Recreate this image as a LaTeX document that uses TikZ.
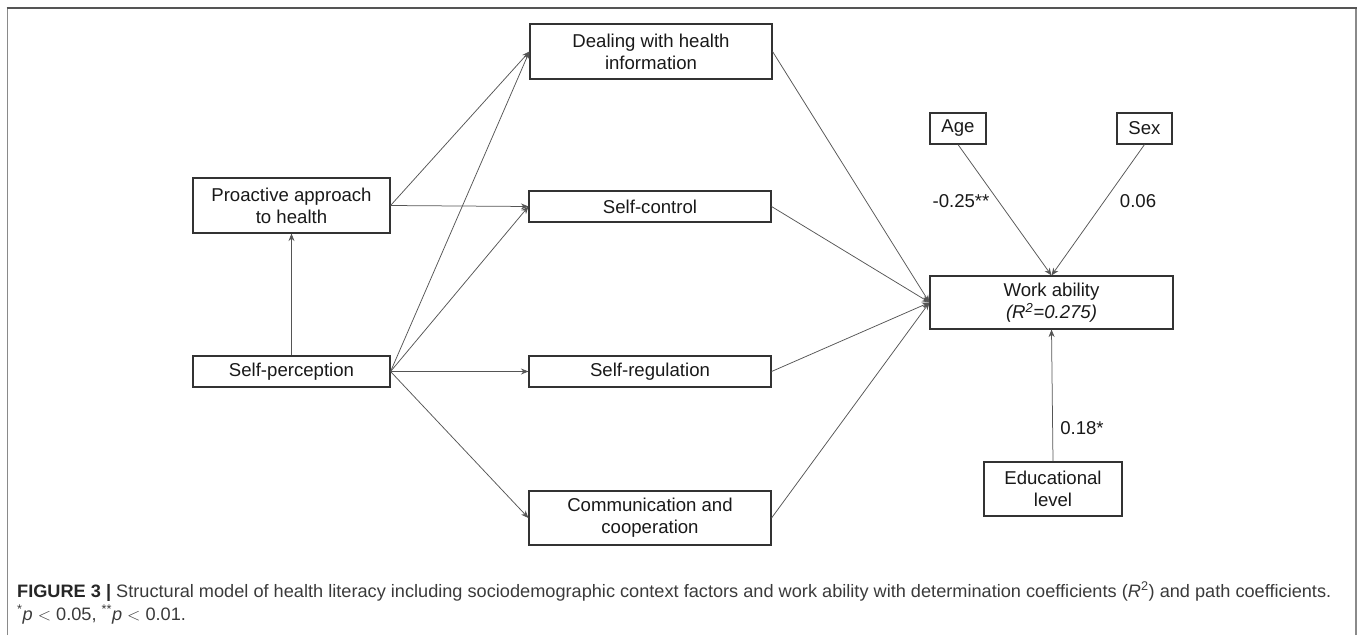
\documentclass[tikz,border=0pt]{standalone}
\usepackage{fontspec}
\usepackage{graphicx}
\setmainfont{Liberation Sans}
\usetikzlibrary{arrows.meta}
\definecolor{boxline}{HTML}{333333}
\definecolor{arrline}{HTML}{555555}
\definecolor{frameline}{HTML}{8A8A8A}
\definecolor{frametop}{HTML}{555555}
\definecolor{captxt}{HTML}{3A3A3A}
\newsavebox\capboxA
\newsavebox\capboxB
\newdimen\capwdA
\begin{document}
\sbox\capboxA{\fontsize{18}{21}\selectfont\color{captxt}\textbf{\color{black!85}FIGURE 3 |} Structural model of health literacy including sociodemographic context factors and work ability with determination coefficients (\textit{R}\textsuperscript{2}) and path coefficients.}%
\sbox\capboxB{\fontsize{18}{21}\selectfont\color{captxt}\textsuperscript{*}\textit{p} $<$ 0.05, \textsuperscript{**}\textit{p} $<$ 0.01.}%
\capwdA=\wd\capboxA
\pgfmathsetmacro\capscale{1314/(\capwdA/1pt)}%
\begin{tikzpicture}[x=1pt,y=-1pt,
  every node/.style={font=\fontsize{18.6}{22}\selectfont, text=black!90},
  box/.style={draw=boxline, line width=1.1pt, inner sep=0pt, align=center},
  conn/.style={draw=arrline, line width=0.75pt, -{Stealth[length=7.5pt,width=6pt]}},
  coef/.style={inner sep=0pt}]
\useasboundingbox (0,0) rectangle (1358,635);
% frame
\draw[frameline, line width=1.6pt] (7.5,635) -- (7.5,8);
\draw[frameline, line width=1.6pt] (1356,635) -- (1356,8);
\draw[frametop, line width=1.6pt] (6.7,8) -- (1356.8,8);
% nodes
\node[box, minimum width=242pt, minimum height=55pt] (deal) at (651,51.5) {Dealing with health\\information};
\node[box, minimum width=197pt, minimum height=55pt] (proact) at (291.5,205.5) {Proactive approach\\to health};
\node[box, minimum width=242pt, minimum height=31pt] (selfctl) at (650,206.5) {Self-control};
\node[box, minimum width=197pt, minimum height=31pt] (selfper) at (291.5,371.5) {Self-perception};
\node[box, minimum width=242pt, minimum height=31pt] (selfreg) at (650,371.5) {Self-regulation};
\node[box, minimum width=242pt, minimum height=54pt] (comm) at (650,518) {Communication and\\cooperation};
\node[box, minimum width=56pt, minimum height=31pt] (age) at (958,128.5) {Age};
\node[box, minimum width=55pt, minimum height=31pt] (sex) at (1144.5,128.5) {Sex};
\node[box, minimum width=243pt, minimum height=53pt] (wa) at (1051.5,302.5) {Work ability\\\textit{(R\textsuperscript{2}=0.275)}};
\node[box, minimum width=138pt, minimum height=54pt] (edu) at (1053,489) {Educational\\level};
% connectors
\draw[conn] (selfper.north) -- (proact.south);
\draw[conn] (proact.east) -- (deal.west);
\draw[conn] (proact.east) -- (selfctl.west);
\draw[conn] (selfper.east) -- (deal.west);
\draw[conn] (selfper.east) -- (selfctl.west);
\draw[conn] (selfper.east) -- (selfreg.west);
\draw[conn] (selfper.east) -- (comm.west);
\draw[conn] (deal.east) -- (wa.west);
\draw[conn] (selfctl.east) -- (wa.west);
\draw[conn] (selfreg.east) -- (wa.west);
\draw[conn] (comm.east) -- (wa.west);
\draw[conn] (age.south) -- (wa.north);
\draw[conn] (sex.south) -- (wa.north);
\draw[conn] (edu.north) -- (wa.south);
% coefficients
\node[coef] (c1) at (961,201) {-0.25**};
\node[coef] (c2) at (1138,201) {0.06};
\node[coef] (c3) at (1082,428) {0.18*};
% caption
\node[anchor=base west, inner sep=0pt] (cap1) at (17,597)
  {\scalebox{\capscale}[1]{\usebox\capboxA}};
\node[anchor=base west, inner sep=0pt] (cap2) at (17,620)
  {\scalebox{\capscale}[1]{\usebox\capboxB}};
\end{tikzpicture}
\end{document}
